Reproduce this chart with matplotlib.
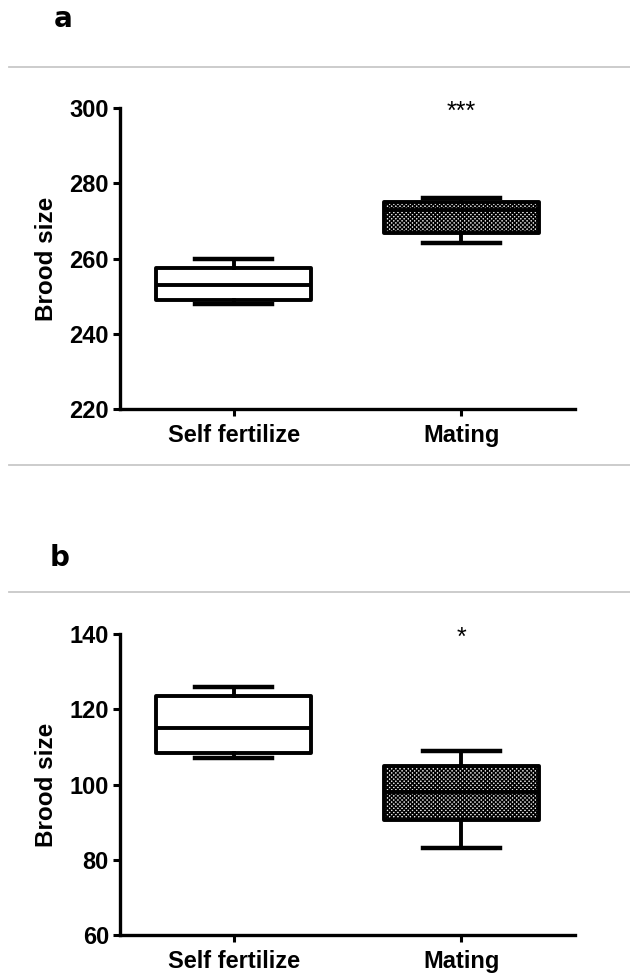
import matplotlib
matplotlib.use("Agg")
import matplotlib.pyplot as plt
from matplotlib.lines import Line2D

# ---- data ----
groups = ["Self fertilize", "Mating"]
stars_a = "***"
stars_b = "*"

# panel a
a_whislo = [248.0, 264.0]
a_q1 = [249.0, 266.8]
a_med = [253.0, 273.0]
a_q3 = [257.5, 275.0]
a_whishi = [260.0, 276.0]

# panel b
b_whislo = [107.0, 83.0]
b_q1 = [108.5, 90.5]
b_med = [115.0, 98.0]
b_q3 = [123.5, 105.0]
b_whishi = [126.0, 109.0]

a_ticks = [220, 240, 260, 280, 300]
b_ticks = [60, 80, 100, 120, 140]

plt.rcParams['font.family'] = ['Liberation Sans Narrow', 'Liberation Sans', 'DejaVu Sans']
plt.rcParams['hatch.linewidth'] = 1.0

W, H = 630, 973
fig = plt.figure(figsize=(W / 100, H / 100), dpi=100)
fig.patch.set_facecolor('white')


def px(x, y):
    return x / W, 1 - y / H


def panel(rect, lo, q1, med, q3, hi, ticks, stars):
    ax = fig.add_axes(rect)
    stats = []
    for i in range(len(groups)):
        stats.append(dict(whislo=lo[i], q1=q1[i], med=med[i], q3=q3[i], whishi=hi[i], label=groups[i]))
    lw = 2.8
    bp = ax.bxp(stats, positions=[1, 2], widths=0.68, patch_artist=True, showfliers=False,
                boxprops=dict(linewidth=lw, edgecolor='black', joinstyle='round'),
                medianprops=dict(linewidth=lw, color='black'),
                whiskerprops=dict(linewidth=lw, color='black'),
                capprops=dict(linewidth=lw + 0.4, color='black'),
                capwidths=0.34)
    bp['boxes'][0].set_facecolor('white')
    bp['boxes'][1].set_facecolor('#e6e6e6')
    bp['boxes'][1].set_hatch('xxxxxxxx')
    ax.set_xlim(0.5, 2.5)
    ax.set_ylim(ticks[0], ticks[-1])
    ax.set_yticks(ticks)
    ax.set_facecolor('none')
    for s in ['top', 'right']:
        ax.spines[s].set_visible(False)
    for s in ['left', 'bottom']:
        ax.spines[s].set_linewidth(2.4)
    ax.tick_params(axis='y', length=5, width=2.2, pad=3, labelsize=17)
    ax.tick_params(axis='x', length=5, width=2.2, pad=6, labelsize=17)
    for t in ax.get_xticklabels() + ax.get_yticklabels():
        t.set_fontweight('bold')
    ax.set_ylabel("Brood size", fontsize=17.5, fontweight='bold',
                  family=['Liberation Sans', 'DejaVu Sans'], labelpad=8)
    ax.annotate(stars, (2, ticks[-1]), xytext=(0, -3), textcoords='offset points',
                ha='center', va='center', fontsize=18,
                family=['Liberation Sans', 'DejaVu Sans'], annotation_clip=False)
    return ax


# axes placement: spine x from 120 to 575 px
ax_a = panel([120 / W, 1 - 409 / H, 455 / W, 301 / H],
             a_whislo, a_q1, a_med, a_q3, a_whishi, a_ticks, stars_a)
ax_b = panel([120 / W, 1 - 935 / H, 455 / W, 301 / H],
             b_whislo, b_q1, b_med, b_q3, b_whishi, b_ticks, stars_b)

# panel letters
fig.text(*px(54, 19), "a", fontsize=20, fontweight='heavy', family='DejaVu Sans', va='center', ha='left')
fig.text(*px(50, 558), "b", fontsize=20, fontweight='heavy', family='DejaVu Sans', va='center', ha='left')

# separator lines
for yy in [67, 465, 592]:
    fig.add_artist(Line2D([9 / W, 1], [1 - yy / H, 1 - yy / H], transform=fig.transFigure,
                          color='#c8c8c8', linewidth=1.3))

fig.savefig("out.png", dpi=100)
